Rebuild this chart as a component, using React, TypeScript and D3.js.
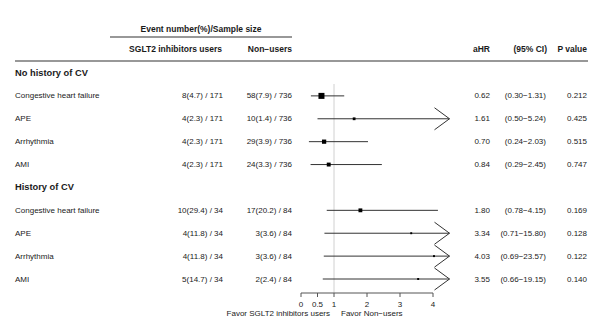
import React from "react";
import * as d3 from "d3";

const groups = ["No history of CV", "History of CV"];
const outcomes = ["Congestive heart failure", "APE", "Arrhythmia", "AMI"];

// [events, percent, n] per row, no history rows first
const sgltUsers = [
  [8, "4.7", 171], [4, "2.3", 171], [4, "2.3", 171], [4, "2.3", 171],
  [10, "29.4", 34], [4, "11.8", 34], [4, "11.8", 34], [5, "14.7", 34],
];
const nonUsers = [
  [58, "7.9", 736], [10, "1.4", 736], [29, "3.9", 736], [24, "3.3", 736],
  [17, "20.2", 84], [3, "3.6", 84], [3, "3.6", 84], [2, "2.4", 84],
];
const aHR = [0.62, 1.61, 0.7, 0.84, 1.8, 3.34, 4.03, 3.55];
const ciLow = [0.3, 0.5, 0.24, 0.29, 0.78, 0.71, 0.69, 0.66];
const ciHigh = [1.31, 5.24, 2.03, 2.45, 4.15, 15.8, 23.57, 19.15];
const pValues = ["0.212", "0.425", "0.515", "0.747", "0.169", "0.128", "0.122", "0.140"];
const ticks = [0, 0.5, 1, 2, 3, 4];

const W = 597;
const H = 321;
const font = "'Liberation Sans', Arial, Helvetica, sans-serif";
const ink = "#1a1a1a";

export default function App() {
  const x = d3.scaleLinear().domain([0, 4]).range([301, 433]);
  const xMax = 4.5;
  const y = d3.scaleLinear().domain([0, 9]).range([73, 279]);
  const totalEvents = sgltUsers.map((d, i) => (d[0] as number) + (nonUsers[i][0] as number));
  const box = d3.scaleSqrt().domain([0, d3.max(totalEvents) as number]).range([0, 6]);

  const rowIndex = (i: number) => (i < 4 ? i + 1 : i + 2);
  const fmtCount = (d: (string | number)[]) => `${d[0]}(${d[1]}) / ${d[2]}`;

  const axisY = 293;
  const txt = { fontFamily: font, fontSize: 8, fill: ink };

  return (
    <svg width={W} height={H} style={{ position: "absolute", left: 0, top: 0, background: "#fff" }}>
      {/* header */}
      <text x={201} y={29} textAnchor="middle" dominantBaseline="central"
        style={{ ...txt, fontSize: 8.5, fontWeight: "bold" }}>
        Event number(%)/Sample size
      </text>
      <line x1={110} x2={292} y1={37} y2={37} stroke="#333" strokeWidth={1.2} />
      <g style={{ ...txt, fontSize: 8.5, fontWeight: "bold" }}>
        <text x={222} y={49} textAnchor="end" dominantBaseline="central">SGLT2 inhibitors users</text>
        <text x={292} y={49} textAnchor="end" dominantBaseline="central">Non−users</text>
        <text x={490} y={49} textAnchor="end" dominantBaseline="central">aHR</text>
        <text x={547} y={49} textAnchor="end" dominantBaseline="central">(95% CI)</text>
        <text x={587} y={49} textAnchor="end" dominantBaseline="central">P value</text>
      </g>
      <line x1={15} x2={588} y1={61} y2={61} stroke="#333" strokeWidth={1.2} />

      {/* group headings */}
      {groups.map((g, gi) => (
        <text key={g} x={15} y={y(gi * 5)} dominantBaseline="central"
          style={{ ...txt, fontSize: 9.3, fontWeight: "bold" }}>
          {g}
        </text>
      ))}

      {/* reference line */}
      <line x1={x(1)} x2={x(1)} y1={84} y2={axisY} stroke="#d0d0d0" strokeWidth={1} />

      {aHR.map((hr, i) => {
        const yy = y(rowIndex(i));
        const hi = Math.min(ciHigh[i], xMax);
        const s = box(totalEvents[i]);
        return (
          <g key={i}>
            <text x={15} y={yy} dominantBaseline="central" style={txt}>{outcomes[i % 4]}</text>
            <text x={223} y={yy} textAnchor="end" dominantBaseline="central" style={txt}>{fmtCount(sgltUsers[i])}</text>
            <text x={292} y={yy} textAnchor="end" dominantBaseline="central" style={txt}>{fmtCount(nonUsers[i])}</text>
            <text x={490} y={yy} textAnchor="end" dominantBaseline="central" style={txt}>{hr.toFixed(2)}</text>
            <text x={546} y={yy} textAnchor="end" dominantBaseline="central" style={txt}>
              ({ciLow[i].toFixed(2)}−{ciHigh[i].toFixed(2)})
            </text>
            <text x={587} y={yy} textAnchor="end" dominantBaseline="central" style={txt}>{pValues[i]}</text>

            <line x1={x(ciLow[i])} x2={x(hi)} y1={yy} y2={yy} stroke="#333" strokeWidth={1} />
            {ciHigh[i] > xMax && (
              <path d={`M${x(hi) - 15},${yy - 11}L${x(hi)},${yy}L${x(hi) - 15},${yy + 11}`}
                fill="none" stroke="#333" strokeWidth={1} />
            )}
            <rect x={x(hr) - s / 2} y={yy - s / 2} width={s} height={s} fill="#000" />
          </g>
        );
      })}

      {/* axis */}
      <line x1={x(0)} x2={x(4)} y1={axisY} y2={axisY} stroke="#555" strokeWidth={1} />
      {ticks.map((t) => (
        <g key={t}>
          <line x1={x(t)} x2={x(t)} y1={axisY} y2={axisY + 4} stroke="#555" strokeWidth={1} />
          <text x={x(t)} y={axisY + 11} textAnchor="middle" dominantBaseline="central" style={txt}>
            {String(t)}
          </text>
        </g>
      ))}
      <text x={330} y={313} textAnchor="end" dominantBaseline="central" style={txt}>Favor SGLT2 inhibitors users</text>
      <text x={341} y={313} dominantBaseline="central" style={txt}>Favor Non−users</text>
    </svg>
  );
}
